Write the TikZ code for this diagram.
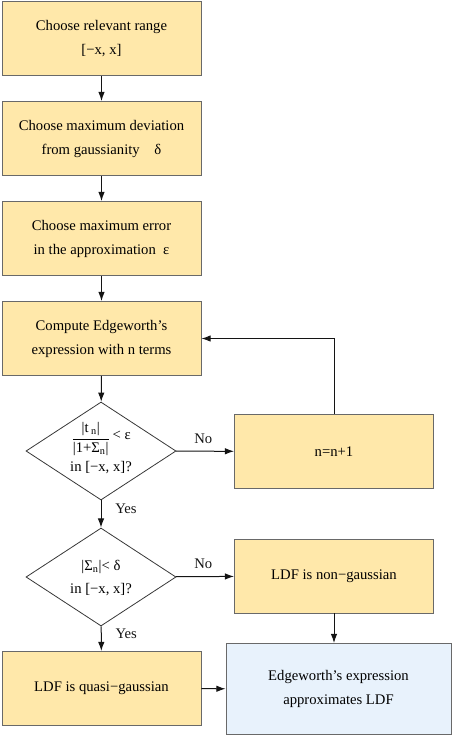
\documentclass[tikz,border=0pt]{standalone}
\usepackage{fontspec}
\setmainfont{Liberation Serif}
\usetikzlibrary{arrows.meta,positioning,shapes.geometric}
\definecolor{sand}{RGB}{255,232,170}
\definecolor{sky}{RGB}{232,242,252}
\definecolor{rim}{RGB}{105,105,105}
\definecolor{ink}{RGB}{20,20,20}
\tikzset{
  >={Latex[length=2.4mm,width=1.7mm]},
  box/.style={draw=rim,fill=#1,line width=0.7pt,minimum width=149.25pt,minimum height=55.5pt,
    align=center,inner sep=2pt,font=\fontsize{11}{18}\selectfont},
  box/.default=sand,
  test/.style={diamond,draw=ink!85,line width=0.6pt,minimum width=112.5pt,minimum height=73.5pt,inner sep=0pt},
  inside/.style={align=center,inner sep=0pt,font=\fontsize{11}{17}\selectfont},
  flow/.style={->,line width=0.75pt,draw=ink},
  tag/.style={font=\fontsize{11}{13}\selectfont,text=ink},
}
\begin{document}
\begin{tikzpicture}[x=0.75pt,y=-0.75pt]
  \useasboundingbox (0,0) rectangle (453,736);
  % left column
  \node[box] (range) at (101.5,38.5) {Choose relevant range\\{[}−x, x]};
  \node[box] (dev) at (101.5,138.5) {Choose maximum deviation\\from gaussianity\quad δ};
  \node[box] (err) at (101.5,238.5) {Choose maximum error\\in the approximation\enspace ε};
  \node[box] (comp) at (101.5,338.5) {Compute Edgeworth’s\\expression with n terms};
  \node[test] (conv) at (101,451) {};
  \node[inside] (convtxt) at (101,448) {$\displaystyle\frac{\mbox{|t\,\textsubscript{n}|}}{\mbox{|1+Σ\textsubscript{n}|}}$\,\raisebox{2pt}{< ε}\\[3pt]in {[}−x, x]?};
  \node[test] (small) at (101,577) {};
  \node[inside] (smalltxt) at (101,578) {|Σ\textsubscript{n}|< δ\\in {[}−x, x]?};
  \node[box] (quasi) at (101.5,688.5) {LDF is quasi−gaussian};
  % right column
  \node[box] (incr) at (334,451.5) {n=n+1};
  \node[box] (nong) at (334,576) {LDF is non−gaussian};
  \node[box=sky,minimum width=168.75pt,minimum height=68.25pt] (approx) at (338.5,689) {Edgeworth’s expression\\approximates LDF};
  % connectors
  \foreach \a/\b in {range/dev,dev/err,err/comp,comp/conv}
    \draw[flow] (\a) -- (\b);
  \draw[flow] (conv) -- node[tag,above=2pt,pos=0.47]{No} (incr);
  \draw[flow] (incr.north) |- (comp.east);
  \draw[flow] (conv) -- node[tag,right=7pt,pos=0.3]{Yes} (small);
  \draw[flow] (small) -- node[tag,above=2pt,pos=0.47]{No} (nong);
  \draw[flow] (small) -- node[tag,right=7pt,pos=0.3]{Yes} (quasi);
  \draw[flow] (nong) -- (nong.south |- approx.north);
  \draw[flow] (quasi) -- (approx);
\end{tikzpicture}
\end{document}
